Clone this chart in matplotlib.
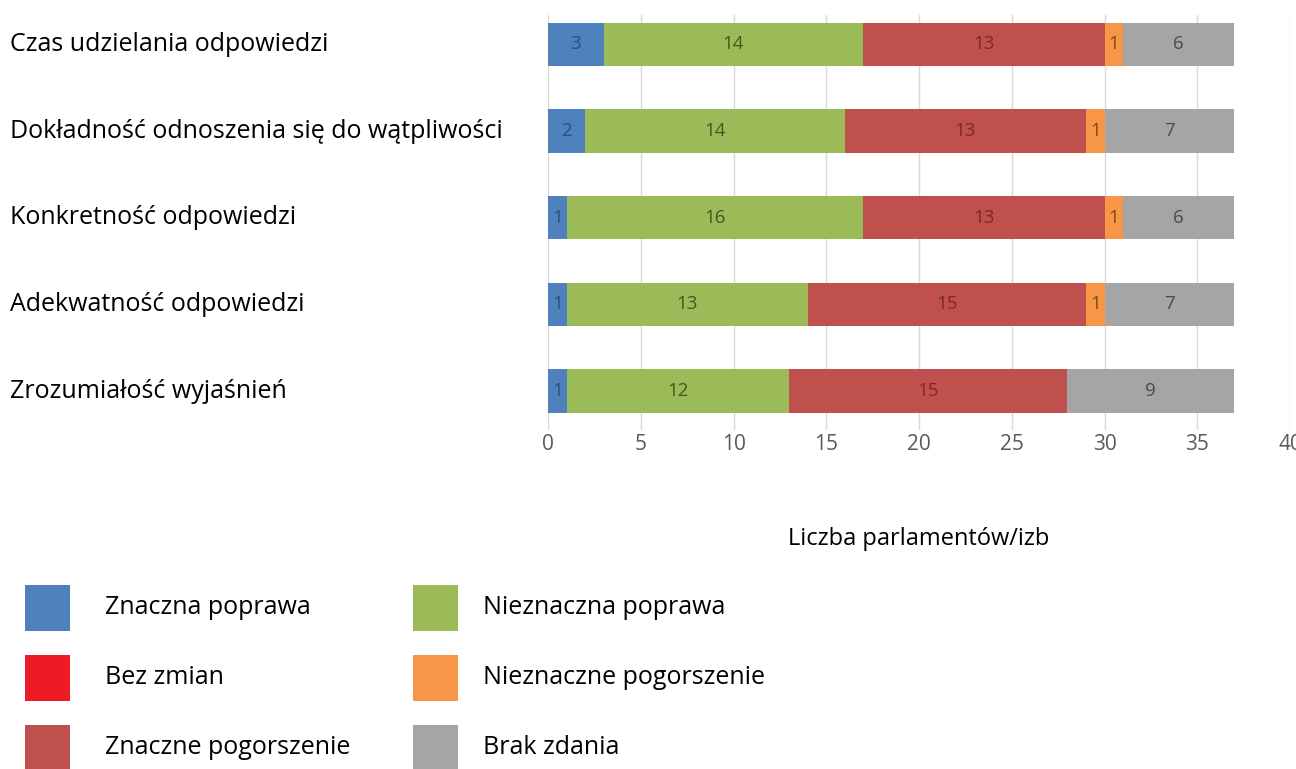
import matplotlib.pyplot as plt
from matplotlib.patches import Rectangle
from matplotlib.transforms import blended_transform_factory

plt.rcParams['font.family'] = ['Open Sans', 'DejaVu Sans']

# categories, top to bottom
categories = [
    'Czas udzielania odpowiedzi',
    'Dokładność odnoszenia się do wątpliwości',
    'Konkretność odpowiedzi',
    'Adekwatność odpowiedzi',
    'Zrozumiałość wyjaśnień',
]

# stacked segments, in the order they appear in the bars
znaczna_poprawa = [3, 2, 1, 1, 1]
nieznaczna_poprawa = [14, 14, 16, 13, 12]
znaczne_pogorszenie = [13, 13, 13, 15, 15]
nieznaczne_pogorszenie = [1, 1, 1, 1, 0]
brak_zdania = [6, 7, 6, 7, 9]

series = [znaczna_poprawa, nieznaczna_poprawa, znaczne_pogorszenie,
          nieznaczne_pogorszenie, brak_zdania]
series_colors = ['#4f81bd', '#9bbb59', '#c0504d', '#f79646', '#a5a5a5']
label_colors = ['#2f4f7a', '#3f5a20', '#7a2a28', '#7a4a1a', '#4a4a4a']

legend_labels = ['Znaczna poprawa', 'Nieznaczna poprawa',
                 'Bez zmian', 'Nieznaczne pogorszenie',
                 'Znaczne pogorszenie', 'Brak zdania']
legend_colors = ['#4f81bd', '#9bbb59', '#ed1c24', '#f79646',
                 '#c0504d', '#a5a5a5']

W, H = 1296, 769
fig = plt.figure(figsize=(W / 100, H / 100), dpi=100)
ax = fig.add_axes([548 / W, 1 - 430 / H, (1290 - 548) / W, (430 - 15) / H])

ypos = list(range(len(categories)))
left = [0] * len(categories)
for vals, col, lcol in zip(series, series_colors, label_colors):
    ax.barh(ypos, vals, left=left, height=0.5, color=col, zorder=2)
    for y, v, l in zip(ypos, vals, left):
        if v > 0:
            ax.text(l + v / 2, y, str(v), ha='center', va='center',
                    fontsize=13.5, color=lcol, zorder=3)
    left = [a + b for a, b in zip(left, vals)]

ax.set_xlim(0, 40)
ax.set_ylim(len(categories) - 1 + 0.45, -0.34)
ax.set_xticks(range(0, 41, 5))
ax.set_yticks([])
ax.grid(axis='x', color='#d9d9d9', linewidth=1, zorder=0)
for s in ax.spines.values():
    s.set_visible(False)
ax.tick_params(axis='x', length=0, pad=3, labelsize=15, labelcolor='#595959')
ax.set_xlabel('Liczba parlamentów/izb', fontsize=17, labelpad=52, color='#000000')

# category labels on the left
lab_tr = blended_transform_factory(fig.transFigure, ax.transData)
for y, c in zip(ypos, categories):
    ax.text(10 / W, y, c, transform=lab_tr, ha='left', va='center',
            fontsize=18)

# legend drawn as squares with text, two columns
col_x = [25, 413]
txt_x = [105, 483]
row_y = [608, 678, 748]
for i, (lab, col) in enumerate(zip(legend_labels, legend_colors)):
    r, c = divmod(i, 2)
    fig.add_artist(Rectangle((col_x[c] / W, 1 - (row_y[r] + 23) / H),
                             45 / W, 46 / H, transform=fig.transFigure,
                             facecolor=col, edgecolor='none'))
    fig.text(txt_x[c] / W, 1 - row_y[r] / H, lab, ha='left', va='center',
             fontsize=18)

fig.savefig('out.png', dpi=100)
